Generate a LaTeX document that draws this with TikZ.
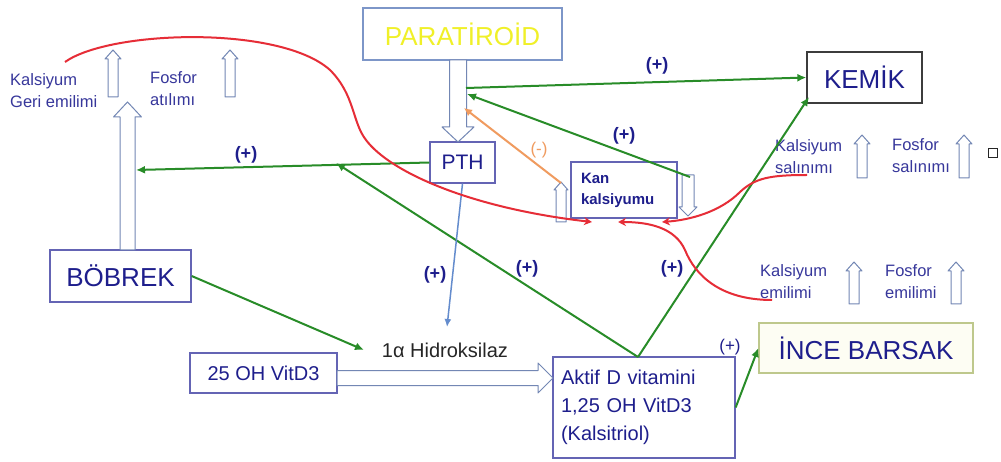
\documentclass[tikz,border=0pt]{standalone}
\usepackage{fontspec}
\setmainfont{Liberation Sans}
\definecolor{organblue}{RGB}{30,30,140}
\definecolor{labelblue}{RGB}{55,55,155}
\definecolor{boxborder}{RGB}{100,100,180}
\definecolor{paraborder}{RGB}{125,150,200}
\definecolor{parayellow}{RGB}{240,240,40}
\definecolor{kemikborder}{RGB}{60,60,60}
\definecolor{barsakborder}{RGB}{190,200,140}
\definecolor{barsakfill}{RGB}{253,253,243}
\definecolor{hollowborder}{RGB}{115,135,180}
\definecolor{plusgreen}{RGB}{40,140,40}
\definecolor{calcred}{RGB}{230,45,55}
\definecolor{minusorange}{RGB}{240,155,95}
\definecolor{pthblue}{RGB}{100,140,205}
\usepackage{tikz}
\usetikzlibrary{arrows.meta,positioning}
\newcommand{\hollowvert}[6]{\draw[hollow] ({#1-#4},#3) -- ({#1-#4},{#2+#6}) -- ({#1-#5},{#2+#6}) -- (#1,#2) -- ({#1+#5},{#2+#6}) -- ({#1+#4},{#2+#6}) -- ({#1+#4},#3) -- cycle;}
\newcommand{\hollowhoriz}[6]{\draw[hollow] (#3,{#1-#4}) -- ({#2-#6},{#1-#4}) -- ({#2-#6},{#1-#5}) -- (#2,#1) -- ({#2-#6},{#1+#5}) -- ({#2-#6},{#1+#4}) -- (#3,{#1+#4}) -- cycle;}
\tikzset{
  organ/.style={draw=boxborder,line width=1.3pt,fill=white,inner sep=0pt,text=organblue,
    font=\fontsize{26}{30}\selectfont},
  effect/.style={text=labelblue,align=left,anchor=west,inner sep=0pt,
    font=\fontsize{16.5}{22}\selectfont},
  plus/.style={text=organblue,font=\fontsize{18}{20}\selectfont\bfseries},
  hollow/.style={draw=hollowborder,fill=white,line width=1pt,line join=round},
  stim/.style={draw=plusgreen,line width=2pt,-{Latex[length=9pt,width=8pt]}},
  calc/.style={draw=calcred,line width=2pt,-{Stealth[length=8pt,width=8pt]}}
}

\begin{document}
\begin{tikzpicture}[x=1pt,y=-1pt]
  \fill[white] (0,0) rectangle (1001,462);
  \useasboundingbox (0,0) rectangle (1001,462);

  \node[organ,draw=paraborder,text=parayellow,minimum width=199pt,minimum height=52pt] (para) at (462.5,34) {PARATİROİD};
  \node[organ,font=\fontsize{21}{24}\selectfont,minimum width=65pt,minimum height=41pt] (pth) at (462.5,162.5) {PTH};
  \node[organ,draw=kemikborder,minimum width=115pt,minimum height=51pt] (kemik) at (864.5,77.5) {KEMİK};
  \node[organ,minimum width=141pt,minimum height=52pt] (bobrek) at (120.5,276) {BÖBREK};
  \node[organ,font=\fontsize{20}{24}\selectfont,minimum width=147pt,minimum height=40pt] (vitd) at (263.5,373) {25 OH VitD3};
  \node[organ,draw=barsakborder,fill=barsakfill,minimum width=214pt,minimum height=50pt] (barsak) at (866,348) {İNCE BARSAK};
  \node[organ,font=\fontsize{20}{28}\selectfont,align=left,text width=166pt,inner xsep=8pt,
        minimum width=182pt,minimum height=101pt] (aktif) at (644,407.5)
    {Aktif D vitamini\\1,25 OH VitD3\\(Kalsitriol)};
  \node[text=black!85,font=\fontsize{20}{24}\selectfont,inner sep=0pt] (hidro) at (445,350) {1α Hidroksilaz};

  \node[effect] (kgeri) at (10,91) {Kalsiyum\\Geri emilimi};
  \node[effect] (fatil) at (150,89) {Fosfor\\atılımı};
  \node[effect] (ksalin) at (775,157) {Kalsiyum\\salınımı};
  \node[effect] (fsalin) at (892,156) {Fosfor\\salınımı};
  \node[effect] (kemil) at (760,282) {Kalsiyum\\emilimi};
  \node[effect] (femil) at (885,282) {Fosfor\\emilimi};

  \hollowvert{113}{50}{97}{5}{8}{9}
  \hollowvert{230}{50}{97}{5}{8}{9}
  \hollowvert{862}{135}{178}{5}{8}{9}
  \hollowvert{964}{135}{178}{5}{8}{9}
  \hollowvert{854}{262}{304}{5}{8}{9}
  \hollowvert{956}{262}{304}{5}{8}{9}
  \hollowvert{561}{182}{222}{5}{7}{8}
  \hollowvert{688}{216}{175}{6}{9}{-9}
  \hollowvert{127.5}{102}{250}{7.5}{14}{15}
  \hollowvert{458}{142}{60}{8.5}{16}{-15}
  \hollowhoriz{378}{553}{337}{7.5}{15}{15}

  \node[organ,font=\fontsize{15}{21}\selectfont\bfseries,align=left,text width=86pt,
        minimum width=106pt,minimum height=56pt] (kan) at (624,190) {Kan\\kalsiyumu};

  \coordinate (kidarr) at (136,170);
  \coordinate (paraarr) at (466,88);
  \coordinate (paraarrlow) at (467,94);
  \coordinate (paraneg) at (464,108);
  \coordinate (kanup) at (561,183);
  \coordinate (kandown) at (690,177);
  \coordinate (aktiftop) at (638,357);
  \coordinate (kemiklow) at (809,97);
  \coordinate (pthlow) at (336,163);
  \coordinate (hidrotop) at (447,327);
  \coordinate (hidroleft) at (364,350);

  \draw[stim] (pth.west) -- (kidarr);
  \draw[stim] (paraarr) -- (kemik.west);
  \draw[stim] (kandown) -- (paraarrlow);
  \draw[stim] (aktiftop) -- (kemiklow);
  \draw[stim] (aktiftop) -- (pthlow);
  \draw[stim] (bobrek.east) -- (hidroleft);
  \draw[stim] (aktif.east) -- (barsak.west);
  \draw[draw=pthblue,line width=1.5pt,-{Latex[length=8pt,width=7pt]}] (pth.south) -- (hidrotop);
  \draw[draw=minusorange,line width=2pt,-{Latex[length=8pt,width=8pt]}] (kanup) -- (paraneg);

  \draw[calc] (65,62) .. controls (110,30) and (280,25) .. (330,70)
    .. controls (355,95) and (352,122) .. (366,140)
    .. controls (390,172) and (470,208) .. (592,222);
  \draw[calc] (807,175) .. controls (770,175) and (755,178) .. (740,192)
    .. controls (720,212) and (690,220) .. (662,222);
  \draw[calc] (772,300) .. controls (720,300) and (695,275) .. (685,250)
    .. controls (675,228) and (650,222) .. (618,222);

  \node[plus] (p1) at (246,155) {(+)};
  \node[plus] (p2) at (657,66) {(+)};
  \node[plus] (p3) at (624,136) {(+)};
  \node[plus] (p4) at (435,275) {(+)};
  \node[plus] (p5) at (527,269) {(+)};
  \node[plus] (p6) at (672,269) {(+)};
  \node[plus,font=\fontsize{17}{20}\selectfont] (p7) at (730,347) {(+)};
  \node[text=minusorange,font=\fontsize{17}{20}\selectfont] (m1) at (539,150) {(-)};
  \node[draw=black!85,line width=1pt,minimum size=9pt,inner sep=0pt] (bullet) at (993,153) {};
\end{tikzpicture}
\end{document}
